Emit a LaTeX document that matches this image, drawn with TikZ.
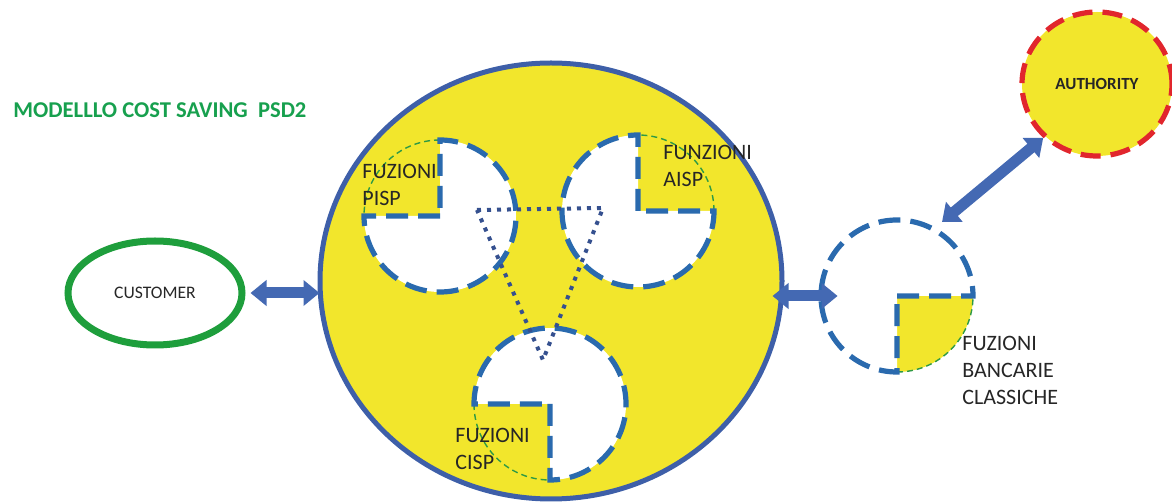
\documentclass[tikz,border=0pt]{standalone}
\usepackage{fontspec}
\setmainfont{Carlito}
\usetikzlibrary{shapes.geometric,arrows.meta,calc}
\definecolor{ylw}{HTML}{F2E62C}
\definecolor{bigblue}{HTML}{3E5FA8}
\definecolor{dblue}{HTML}{2A6AAE}
\definecolor{dgreen}{HTML}{2E9A45}
\definecolor{titlegreen}{HTML}{17A04E}
\definecolor{custgreen}{HTML}{1E9E3C}
\definecolor{authred}{HTML}{E1262D}
\definecolor{arrowblue}{HTML}{4469B3}
\definecolor{dotblue}{HTML}{35508F}
\newcommand\quadc[3]{%
  \fill[white] (#1.center) -- ++(#2:76) arc[start angle=#2, delta angle=270, radius=76] -- cycle;
  \draw[greendash] (#1.center) ++(#3:76) arc[start angle=#3, delta angle=90, radius=76];
  \draw[bluedash] (#1.center) -- ++(#2:76) arc[start angle=#2, delta angle=270, radius=76] -- cycle;
}
\begin{document}
\begin{tikzpicture}[x=0.5pt,y=0.5pt,
  lbl/.style={font=\fontsize{11}{13.5}\selectfont, align=left, anchor=west, inner sep=0pt, text=black!85},
  bluedash/.style={draw=dblue, line width=2.6pt, dash pattern=on 11pt off 5pt},
  greendash/.style={draw=dgreen, line width=0.7pt, dash pattern=on 3pt off 2pt},
  barrow/.style={draw=arrowblue, line width=5.5pt, {Triangle[width=12.5pt,length=8pt]}-{Triangle[width=12.5pt,length=8pt]}},
  qcirc/.style={circle, minimum size=76pt, inner sep=0pt}]
\useasboundingbox (0,0) rectangle (1172,503);

% title
\node[font=\bfseries\fontsize{11.3}{13}\selectfont, text=titlegreen, anchor=west, inner sep=0pt] (title) at (13,393) {MODELLLO COST SAVING\ \ PSD2};

% main nodes
\node[ellipse, draw=bigblue, fill=ylw, line width=2.5pt, minimum width=231pt, minimum height=218pt, inner sep=0pt] (big) at (551,222) {};
\node[ellipse, draw=custgreen, line width=3.5pt, minimum width=87pt, minimum height=52pt, inner sep=0pt, font=\fontsize{8.8}{10}\selectfont, text=black!85] (cust) at (155,210) {CUSTOMER};
\node[ellipse, draw=authred, fill=ylw, line width=2.6pt, dash pattern=on 10pt off 5pt, minimum width=75pt, minimum height=72pt, inner sep=0pt, font=\bfseries\fontsize{8.5}{10}\selectfont, text=black!85] (auth) at (1097,419) {AUTHORITY};

% quadrant circles
\node[qcirc] (pisp) at (440,287) {};
\node[qcirc] (aisp) at (638,292) {};
\node[qcirc] (cisp) at (550,99) {};
\node[qcirc] (banc) at (897,207) {};

\quadc{pisp}{180}{90}
\quadc{aisp}{90}{0}
\quadc{cisp}{270}{180}
\fill[ylw] (banc.center) -- ++(270:76) arc[start angle=270, delta angle=90, radius=76] -- cycle;
\quadc{banc}{0}{270}

% dotted triangle
\draw[dotblue, line width=2pt, dash pattern=on 2pt off 3pt] (477,293) -- (603,295) -- (543,143) -- cycle;

% labels
\node[lbl] (tpisp) at (362,318) {FUZIONI\\PISP};
\node[lbl] (taisp) at (663,337) {FUNZIONI\\AISP};
\node[lbl] (tcisp) at (455,54.5) {FUZIONI\\CISP};
\node[lbl] (tbanc) at (962,133) {FUZIONI\\BANCARIE\\CLASSICHE};

% arrows
\coordinate (bt) at (942,281);
\draw[barrow, shorten <=2.5pt, shorten >=-1pt] (cust.east) -- (big.west |- cust.east);
\draw[barrow, shorten <=-6pt, shorten >=-8.5pt] (big.east |- banc.west) -- (banc.west);
\draw[barrow] (auth.225) -- (bt);
\end{tikzpicture}
\end{document}
